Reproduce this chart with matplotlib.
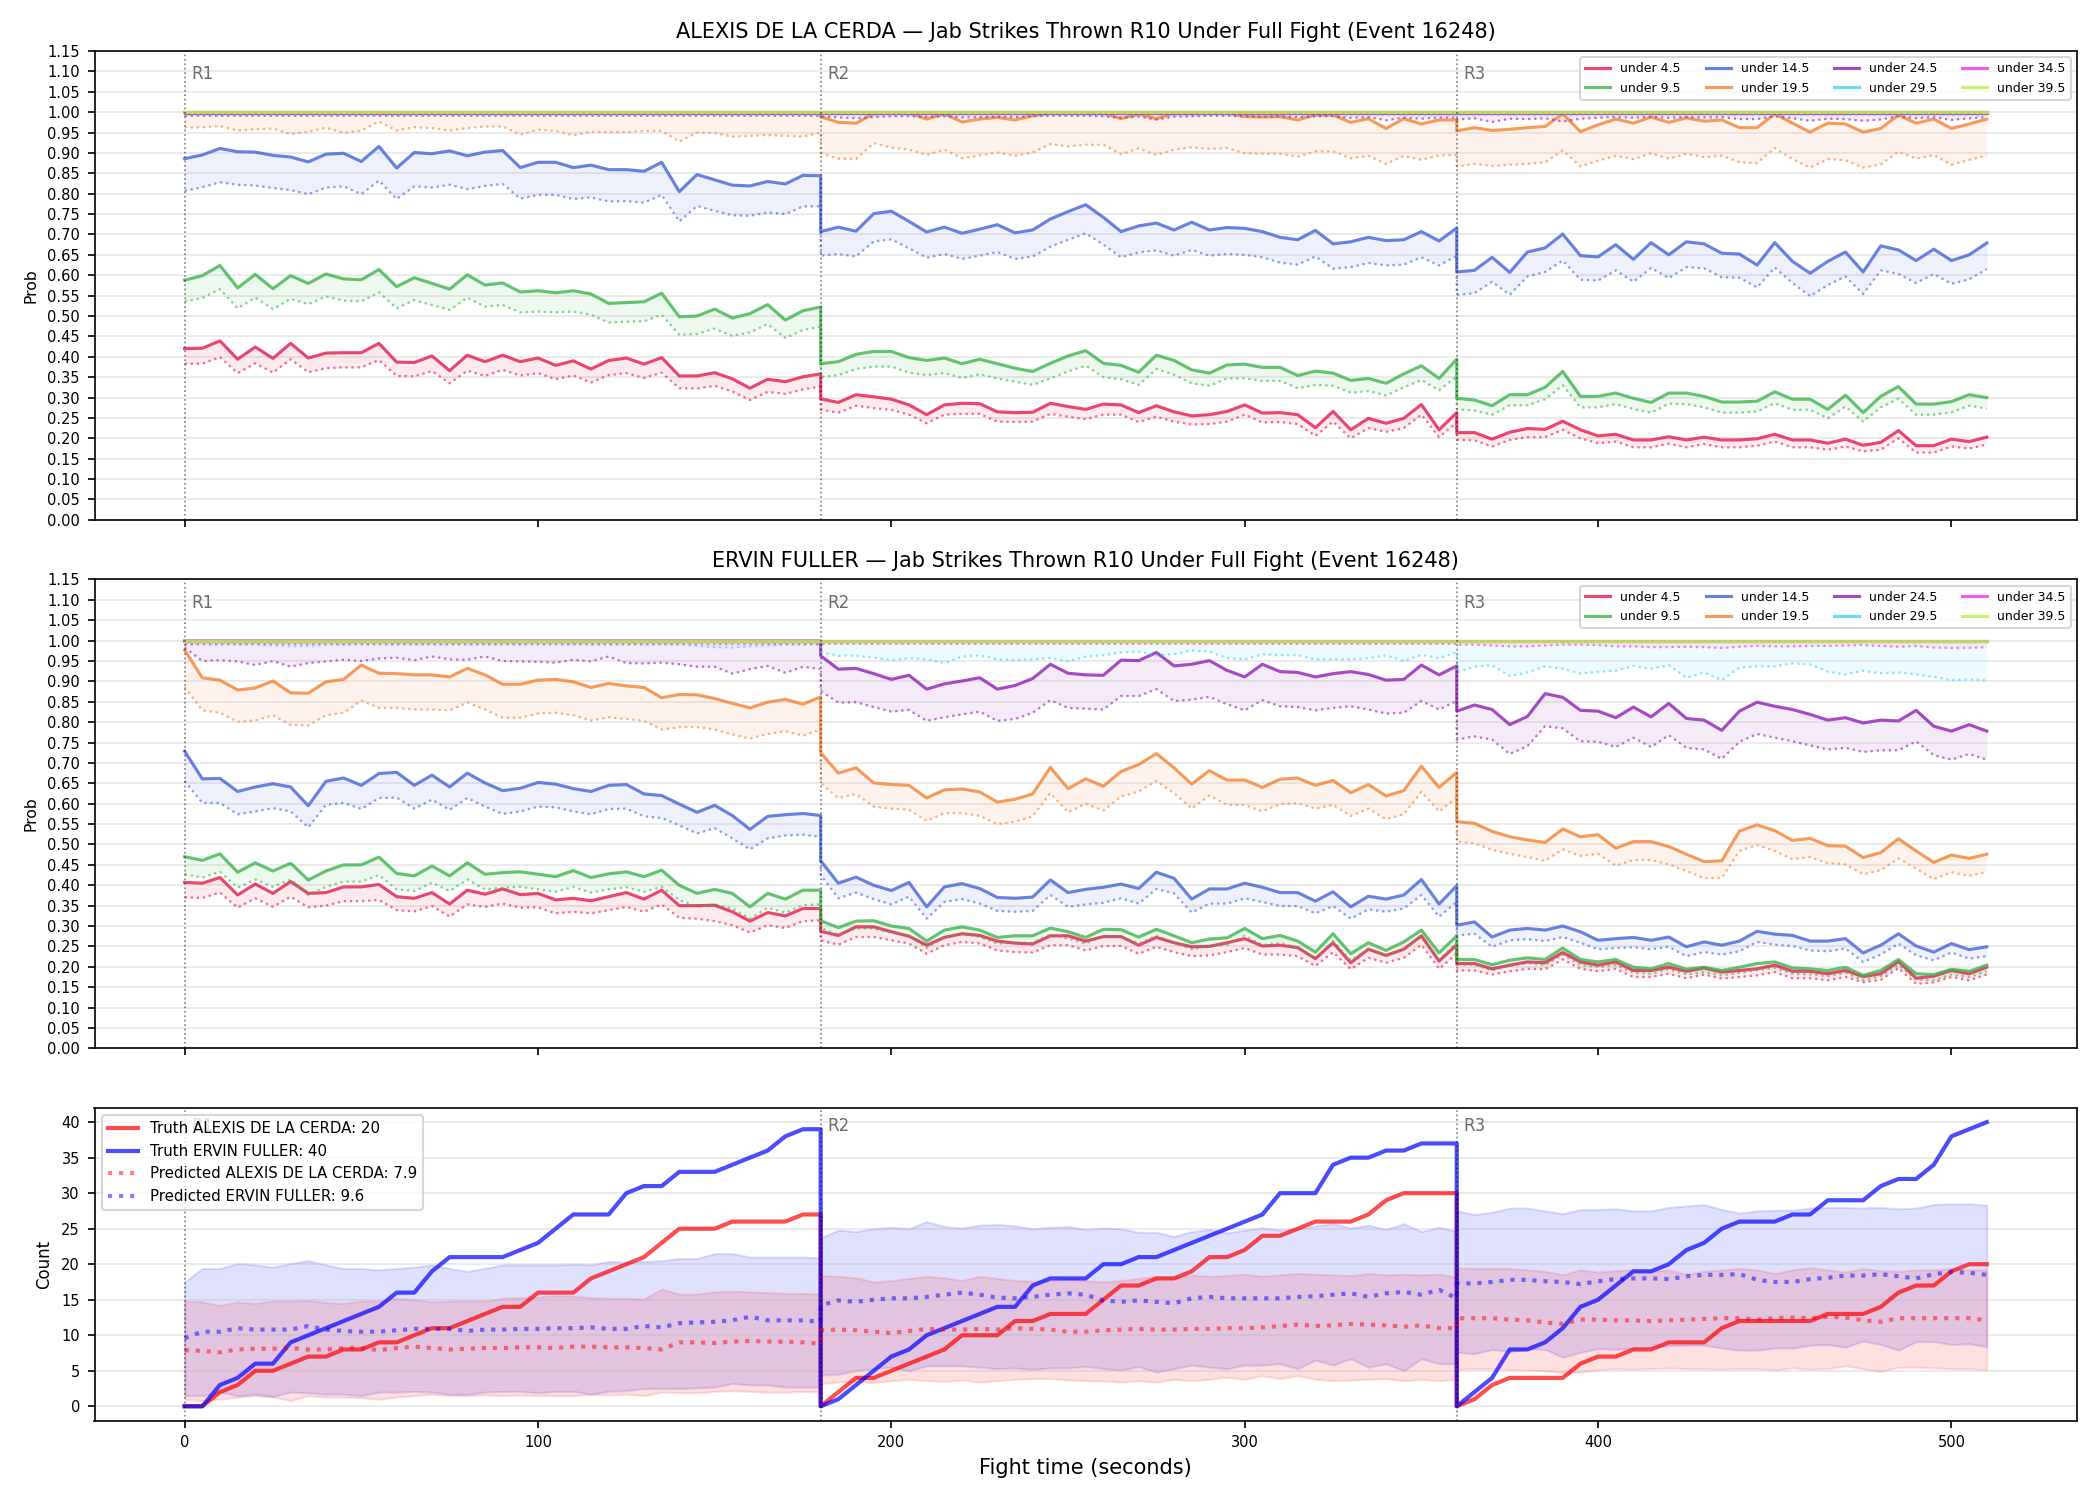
"""Strike-count ladder probabilities per fighter plus cumulative truth vs prediction."""
import numpy as np
import matplotlib
matplotlib.use("Agg")
import matplotlib.pyplot as plt

# sample times (5 s), each round restarts at its boundary
t = np.concatenate([np.arange(0, 181, 5), np.arange(180, 361, 5), np.arange(360, 511, 5)])
round_starts = [0, 180, 360]
round_names = ["R1", "R2", "R3"]

labels = ["under 4.5", "under 9.5", "under 14.5", "under 19.5",
          "under 24.5", "under 29.5", "under 34.5", "under 39.5"]
colors = ["#e6194b", "#3cb44b", "#4363d8", "#f58231",
          "#911eb4", "#42d4f4", "#f032e6", "#bfef45"]

# ---------- ALEXIS DE LA CERDA: P(under line), solid = upper, dotted = lower ----------
alexis_u45 = [
    0.420, 0.421, 0.439, 0.394, 0.424, 0.396, 0.433, 0.397, 0.409, 0.410,
    0.410, 0.433, 0.387, 0.386, 0.402, 0.366, 0.404, 0.388, 0.404, 0.388,
    0.397, 0.379, 0.390, 0.370, 0.391, 0.397, 0.382, 0.398, 0.353, 0.353,
    0.361, 0.346, 0.323, 0.345, 0.339, 0.351, 0.358,
    0.297, 0.288, 0.307, 0.302, 0.296, 0.282, 0.258, 0.282, 0.286, 0.285,
    0.265, 0.263, 0.264, 0.286, 0.278, 0.271, 0.284, 0.282, 0.263, 0.280,
    0.265, 0.255, 0.258, 0.266, 0.282, 0.262, 0.263, 0.258, 0.226, 0.266,
    0.221, 0.249, 0.237, 0.249, 0.283, 0.221, 0.263,
    0.214, 0.214, 0.198, 0.215, 0.224, 0.222, 0.242, 0.221, 0.206, 0.210,
    0.196, 0.196, 0.204, 0.196, 0.203, 0.196, 0.196, 0.199, 0.210, 0.196,
    0.196, 0.188, 0.198, 0.183, 0.190, 0.219, 0.182, 0.182, 0.198, 0.192,
    0.203,
]
alexis_u45_lo = [
    0.383, 0.383, 0.399, 0.360, 0.384, 0.361, 0.394, 0.362, 0.372, 0.374,
    0.374, 0.392, 0.353, 0.352, 0.365, 0.335, 0.366, 0.353, 0.368, 0.354,
    0.360, 0.345, 0.354, 0.337, 0.355, 0.360, 0.348, 0.361, 0.323, 0.322,
    0.329, 0.315, 0.294, 0.314, 0.309, 0.320, 0.327,
    0.270, 0.263, 0.280, 0.274, 0.270, 0.258, 0.237, 0.258, 0.260, 0.260,
    0.241, 0.240, 0.241, 0.260, 0.253, 0.247, 0.258, 0.258, 0.240, 0.253,
    0.241, 0.234, 0.235, 0.241, 0.258, 0.239, 0.240, 0.235, 0.206, 0.241,
    0.200, 0.225, 0.216, 0.225, 0.258, 0.203, 0.239,
    0.196, 0.195, 0.180, 0.196, 0.203, 0.203, 0.221, 0.200, 0.188, 0.192,
    0.178, 0.178, 0.187, 0.178, 0.186, 0.178, 0.178, 0.182, 0.192, 0.178,
    0.178, 0.172, 0.180, 0.168, 0.172, 0.200, 0.165, 0.165, 0.180, 0.175,
    0.185,
]
alexis_u95 = [
    0.588, 0.599, 0.624, 0.569, 0.602, 0.567, 0.599, 0.580, 0.603, 0.591,
    0.589, 0.614, 0.572, 0.594, 0.580, 0.566, 0.601, 0.576, 0.581, 0.559,
    0.562, 0.557, 0.562, 0.554, 0.531, 0.533, 0.535, 0.556, 0.498, 0.500,
    0.517, 0.495, 0.506, 0.528, 0.490, 0.513, 0.522,
    0.383, 0.388, 0.406, 0.413, 0.413, 0.398, 0.391, 0.397, 0.383, 0.394,
    0.383, 0.372, 0.364, 0.384, 0.402, 0.415, 0.384, 0.379, 0.362, 0.404,
    0.391, 0.368, 0.360, 0.380, 0.382, 0.374, 0.374, 0.354, 0.365, 0.360,
    0.342, 0.347, 0.335, 0.358, 0.378, 0.347, 0.394,
    0.298, 0.294, 0.280, 0.307, 0.307, 0.325, 0.364, 0.303, 0.303, 0.311,
    0.298, 0.288, 0.311, 0.311, 0.303, 0.289, 0.289, 0.291, 0.314, 0.296,
    0.296, 0.271, 0.306, 0.263, 0.303, 0.327, 0.284, 0.284, 0.290, 0.307,
    0.300,
]
alexis_u95_lo = [
    0.536, 0.544, 0.566, 0.519, 0.545, 0.517, 0.542, 0.529, 0.548, 0.538,
    0.536, 0.558, 0.519, 0.539, 0.527, 0.515, 0.545, 0.523, 0.527, 0.509,
    0.511, 0.509, 0.511, 0.503, 0.484, 0.486, 0.487, 0.503, 0.454, 0.456,
    0.469, 0.451, 0.460, 0.480, 0.446, 0.466, 0.474,
    0.350, 0.355, 0.370, 0.376, 0.376, 0.361, 0.355, 0.360, 0.348, 0.357,
    0.347, 0.339, 0.331, 0.347, 0.364, 0.378, 0.350, 0.345, 0.331, 0.370,
    0.356, 0.335, 0.329, 0.347, 0.347, 0.341, 0.341, 0.323, 0.331, 0.329,
    0.312, 0.316, 0.305, 0.325, 0.343, 0.318, 0.352,
    0.271, 0.268, 0.258, 0.281, 0.281, 0.296, 0.330, 0.276, 0.276, 0.284,
    0.272, 0.263, 0.285, 0.284, 0.276, 0.263, 0.263, 0.266, 0.286, 0.270,
    0.270, 0.249, 0.278, 0.241, 0.276, 0.297, 0.258, 0.258, 0.264, 0.280,
    0.273,
]
alexis_u145 = [
    0.886, 0.895, 0.911, 0.903, 0.902, 0.894, 0.890, 0.878, 0.897, 0.899,
    0.879, 0.916, 0.863, 0.901, 0.898, 0.905, 0.893, 0.902, 0.906, 0.864,
    0.877, 0.877, 0.864, 0.870, 0.859, 0.859, 0.855, 0.877, 0.805, 0.847,
    0.834, 0.821, 0.819, 0.830, 0.824, 0.845, 0.844,
    0.707, 0.718, 0.708, 0.751, 0.757, 0.732, 0.706, 0.718, 0.703, 0.713,
    0.724, 0.704, 0.711, 0.738, 0.756, 0.773, 0.742, 0.707, 0.721, 0.728,
    0.711, 0.730, 0.711, 0.717, 0.715, 0.707, 0.693, 0.687, 0.710, 0.677,
    0.682, 0.693, 0.685, 0.687, 0.707, 0.684, 0.716,
    0.608, 0.612, 0.644, 0.607, 0.657, 0.667, 0.701, 0.648, 0.645, 0.675,
    0.639, 0.680, 0.650, 0.682, 0.677, 0.654, 0.652, 0.625, 0.680, 0.634,
    0.605, 0.634, 0.657, 0.608, 0.672, 0.662, 0.636, 0.664, 0.636, 0.650,
    0.679,
]
alexis_u145_lo = [
    0.807, 0.816, 0.828, 0.822, 0.820, 0.814, 0.809, 0.799, 0.815, 0.818,
    0.799, 0.832, 0.787, 0.818, 0.815, 0.822, 0.811, 0.819, 0.824, 0.788,
    0.797, 0.797, 0.787, 0.791, 0.781, 0.782, 0.778, 0.797, 0.732, 0.770,
    0.758, 0.747, 0.746, 0.754, 0.750, 0.769, 0.769,
    0.648, 0.652, 0.646, 0.683, 0.688, 0.666, 0.643, 0.652, 0.640, 0.648,
    0.657, 0.640, 0.646, 0.670, 0.687, 0.703, 0.675, 0.644, 0.656, 0.661,
    0.648, 0.662, 0.648, 0.652, 0.650, 0.644, 0.631, 0.626, 0.646, 0.616,
    0.620, 0.630, 0.624, 0.626, 0.644, 0.624, 0.648,
    0.552, 0.556, 0.584, 0.552, 0.597, 0.608, 0.636, 0.589, 0.587, 0.612,
    0.584, 0.618, 0.593, 0.620, 0.617, 0.595, 0.594, 0.570, 0.619, 0.581,
    0.549, 0.576, 0.597, 0.554, 0.612, 0.603, 0.581, 0.603, 0.579, 0.590,
    0.615,
]
alexis_u195 = [0.999] * 37 + [
    0.989, 0.975, 0.973, 0.996, 0.999, 0.998, 0.983, 0.996, 0.976, 0.983,
    0.987, 0.981, 0.991, 0.998, 0.999, 0.999, 0.998, 0.984, 0.996, 0.984,
    0.998, 0.999, 0.999, 0.999, 0.989, 0.988, 0.989, 0.981, 0.993, 0.993,
    0.975, 0.984, 0.960, 0.984, 0.971, 0.981, 0.981,
    0.954, 0.962, 0.955, 0.958, 0.962, 0.965, 0.996, 0.952, 0.969, 0.983,
    0.973, 0.988, 0.975, 0.986, 0.978, 0.981, 0.962, 0.962, 0.996, 0.973,
    0.951, 0.973, 0.971, 0.951, 0.960, 0.993, 0.973, 0.983, 0.960, 0.971,
    0.983,
]
alexis_u195_lo = [
    0.962, 0.963, 0.966, 0.955, 0.958, 0.960, 0.946, 0.952, 0.962, 0.949,
    0.955, 0.977, 0.955, 0.963, 0.961, 0.955, 0.961, 0.965, 0.965, 0.945,
    0.957, 0.954, 0.943, 0.952, 0.951, 0.951, 0.954, 0.954, 0.928, 0.950,
    0.949, 0.940, 0.942, 0.944, 0.942, 0.940, 0.950,
    0.899, 0.886, 0.885, 0.924, 0.913, 0.908, 0.895, 0.908, 0.887, 0.894,
    0.901, 0.893, 0.901, 0.922, 0.916, 0.920, 0.920, 0.897, 0.911, 0.895,
    0.908, 0.914, 0.910, 0.912, 0.899, 0.898, 0.898, 0.891, 0.904, 0.904,
    0.887, 0.893, 0.873, 0.893, 0.883, 0.894, 0.895,
    0.867, 0.873, 0.868, 0.871, 0.873, 0.877, 0.906, 0.867, 0.881, 0.893,
    0.885, 0.899, 0.886, 0.898, 0.890, 0.893, 0.877, 0.875, 0.912, 0.885,
    0.864, 0.885, 0.882, 0.864, 0.872, 0.903, 0.886, 0.895, 0.871, 0.883,
    0.894,
]
alexis_u245 = [0.999] * 105
alexis_u245_lo = [0.991] * 37 + [
    0.990, 0.987, 0.985, 0.988, 0.990, 0.990, 0.989, 0.990, 0.987, 0.988,
    0.989, 0.988, 0.990, 0.991, 0.991, 0.991, 0.990, 0.986, 0.989, 0.982,
    0.989, 0.990, 0.991, 0.991, 0.990, 0.989, 0.990, 0.988, 0.990, 0.990,
    0.986, 0.988, 0.980, 0.987, 0.984, 0.987, 0.987,
    0.982, 0.985, 0.976, 0.984, 0.983, 0.985, 0.977, 0.984, 0.986, 0.988,
    0.986, 0.989, 0.986, 0.988, 0.987, 0.988, 0.983, 0.983, 0.990, 0.985,
    0.979, 0.984, 0.983, 0.979, 0.982, 0.990, 0.985, 0.988, 0.981, 0.985,
    0.988,
]
alexis_u295 = [0.9995] * 105
alexis_u295_lo = [0.993] * 105
alexis_u345 = [0.9995] * 105
alexis_u345_lo = [0.995] * 105
alexis_u395 = [1.0] * 105
alexis_u395_lo = [0.997] * 105

# ---------- ERVIN FULLER ----------
ervin_u45 = [
    0.407, 0.405, 0.419, 0.376, 0.403, 0.380, 0.409, 0.380, 0.382, 0.396,
    0.396, 0.402, 0.372, 0.368, 0.382, 0.354, 0.388, 0.378, 0.391, 0.377,
    0.380, 0.364, 0.368, 0.362, 0.372, 0.382, 0.366, 0.388, 0.350, 0.350,
    0.351, 0.335, 0.312, 0.333, 0.325, 0.343, 0.343,
    0.287, 0.277, 0.298, 0.298, 0.286, 0.275, 0.253, 0.272, 0.281, 0.277,
    0.263, 0.258, 0.256, 0.276, 0.276, 0.263, 0.274, 0.274, 0.253, 0.272,
    0.259, 0.249, 0.250, 0.259, 0.269, 0.251, 0.253, 0.247, 0.220, 0.259,
    0.210, 0.243, 0.228, 0.243, 0.276, 0.214, 0.254,
    0.208, 0.208, 0.195, 0.204, 0.212, 0.210, 0.235, 0.212, 0.204, 0.212,
    0.191, 0.191, 0.199, 0.189, 0.197, 0.187, 0.191, 0.195, 0.204, 0.189,
    0.189, 0.183, 0.191, 0.176, 0.183, 0.213, 0.172, 0.177, 0.191, 0.183,
    0.199,
]
ervin_u45_lo = [
    0.370, 0.369, 0.382, 0.345, 0.368, 0.347, 0.372, 0.346, 0.350, 0.361,
    0.361, 0.364, 0.339, 0.336, 0.349, 0.323, 0.353, 0.347, 0.355, 0.345,
    0.346, 0.331, 0.335, 0.331, 0.339, 0.347, 0.335, 0.353, 0.320, 0.318,
    0.312, 0.302, 0.284, 0.302, 0.295, 0.312, 0.314,
    0.265, 0.254, 0.273, 0.273, 0.265, 0.257, 0.232, 0.253, 0.261, 0.257,
    0.240, 0.236, 0.235, 0.253, 0.253, 0.240, 0.251, 0.251, 0.232, 0.249,
    0.236, 0.226, 0.228, 0.236, 0.246, 0.230, 0.230, 0.226, 0.202, 0.236,
    0.194, 0.222, 0.210, 0.222, 0.254, 0.195, 0.232,
    0.191, 0.191, 0.181, 0.189, 0.195, 0.194, 0.218, 0.195, 0.189, 0.195,
    0.175, 0.175, 0.183, 0.172, 0.181, 0.171, 0.175, 0.179, 0.187, 0.172,
    0.172, 0.167, 0.175, 0.162, 0.168, 0.197, 0.158, 0.162, 0.175, 0.167,
    0.181,
]
ervin_u95 = [
    0.470, 0.461, 0.477, 0.432, 0.455, 0.435, 0.454, 0.413, 0.435, 0.450,
    0.450, 0.469, 0.429, 0.423, 0.447, 0.423, 0.455, 0.427, 0.431, 0.433,
    0.427, 0.421, 0.436, 0.419, 0.428, 0.433, 0.421, 0.437, 0.400, 0.380,
    0.390, 0.380, 0.347, 0.380, 0.366, 0.388, 0.388,
    0.313, 0.296, 0.312, 0.313, 0.300, 0.294, 0.263, 0.290, 0.298, 0.290,
    0.272, 0.276, 0.276, 0.295, 0.286, 0.272, 0.292, 0.291, 0.273, 0.292,
    0.276, 0.259, 0.268, 0.271, 0.294, 0.269, 0.277, 0.263, 0.236, 0.281,
    0.232, 0.259, 0.240, 0.261, 0.290, 0.234, 0.276,
    0.218, 0.218, 0.205, 0.216, 0.222, 0.218, 0.246, 0.218, 0.212, 0.218,
    0.199, 0.195, 0.208, 0.194, 0.199, 0.191, 0.199, 0.208, 0.212, 0.197,
    0.195, 0.191, 0.199, 0.179, 0.191, 0.218, 0.183, 0.181, 0.194, 0.189,
    0.204,
]
ervin_u95_lo = [
    0.427, 0.419, 0.433, 0.394, 0.414, 0.396, 0.414, 0.376, 0.396, 0.409,
    0.409, 0.425, 0.390, 0.386, 0.406, 0.386, 0.414, 0.390, 0.394, 0.396,
    0.390, 0.384, 0.396, 0.382, 0.390, 0.395, 0.384, 0.396, 0.364, 0.347,
    0.353, 0.343, 0.318, 0.345, 0.333, 0.351, 0.353,
    0.295, 0.279, 0.294, 0.294, 0.284, 0.277, 0.246, 0.273, 0.281, 0.273,
    0.257, 0.259, 0.259, 0.279, 0.269, 0.257, 0.276, 0.274, 0.257, 0.276,
    0.259, 0.243, 0.251, 0.254, 0.276, 0.253, 0.259, 0.246, 0.220, 0.263,
    0.216, 0.243, 0.226, 0.245, 0.272, 0.218, 0.259,
    0.205, 0.205, 0.191, 0.202, 0.209, 0.204, 0.230, 0.204, 0.199, 0.204,
    0.185, 0.183, 0.194, 0.181, 0.187, 0.179, 0.185, 0.192, 0.197, 0.183,
    0.181, 0.177, 0.185, 0.167, 0.177, 0.204, 0.169, 0.167, 0.181, 0.175,
    0.189,
]
ervin_u145 = [
    0.729, 0.661, 0.662, 0.630, 0.641, 0.649, 0.641, 0.595, 0.655, 0.663,
    0.645, 0.674, 0.677, 0.645, 0.670, 0.641, 0.675, 0.651, 0.632, 0.638,
    0.652, 0.648, 0.637, 0.630, 0.645, 0.647, 0.624, 0.620, 0.599, 0.579,
    0.596, 0.571, 0.537, 0.569, 0.573, 0.576, 0.571,
    0.460, 0.405, 0.420, 0.400, 0.387, 0.407, 0.347, 0.396, 0.404, 0.392,
    0.370, 0.368, 0.371, 0.413, 0.382, 0.390, 0.395, 0.403, 0.392, 0.432,
    0.417, 0.366, 0.391, 0.391, 0.405, 0.395, 0.382, 0.382, 0.361, 0.384,
    0.347, 0.373, 0.366, 0.376, 0.414, 0.354, 0.399,
    0.302, 0.310, 0.273, 0.290, 0.294, 0.290, 0.300, 0.286, 0.265, 0.269,
    0.272, 0.265, 0.273, 0.249, 0.261, 0.253, 0.263, 0.287, 0.280, 0.277,
    0.263, 0.263, 0.269, 0.234, 0.253, 0.281, 0.251, 0.236, 0.257, 0.242,
    0.249,
]
ervin_u145_lo = [
    0.656, 0.602, 0.602, 0.574, 0.581, 0.589, 0.581, 0.542, 0.597, 0.602,
    0.587, 0.614, 0.615, 0.588, 0.610, 0.585, 0.614, 0.593, 0.575, 0.581,
    0.593, 0.591, 0.581, 0.574, 0.587, 0.588, 0.569, 0.565, 0.547, 0.527,
    0.540, 0.515, 0.488, 0.515, 0.522, 0.524, 0.519,
    0.425, 0.368, 0.382, 0.366, 0.353, 0.372, 0.318, 0.359, 0.366, 0.355,
    0.337, 0.335, 0.337, 0.376, 0.347, 0.353, 0.357, 0.368, 0.355, 0.391,
    0.380, 0.333, 0.355, 0.355, 0.368, 0.359, 0.349, 0.349, 0.331, 0.349,
    0.318, 0.341, 0.335, 0.343, 0.376, 0.323, 0.359,
    0.277, 0.281, 0.249, 0.265, 0.268, 0.263, 0.273, 0.259, 0.243, 0.246,
    0.248, 0.243, 0.249, 0.226, 0.236, 0.230, 0.238, 0.261, 0.254, 0.251,
    0.240, 0.238, 0.245, 0.212, 0.230, 0.257, 0.228, 0.216, 0.235, 0.220,
    0.226,
]
ervin_u195 = [
    0.977, 0.909, 0.903, 0.879, 0.884, 0.901, 0.872, 0.871, 0.899, 0.905,
    0.940, 0.920, 0.919, 0.916, 0.916, 0.911, 0.932, 0.916, 0.893, 0.893,
    0.903, 0.905, 0.899, 0.885, 0.895, 0.889, 0.885, 0.860, 0.868, 0.867,
    0.858, 0.846, 0.835, 0.849, 0.856, 0.844, 0.862,
    0.725, 0.675, 0.688, 0.651, 0.647, 0.645, 0.614, 0.634, 0.636, 0.629,
    0.604, 0.611, 0.624, 0.689, 0.637, 0.661, 0.643, 0.679, 0.696, 0.723,
    0.688, 0.648, 0.681, 0.658, 0.658, 0.640, 0.660, 0.663, 0.645, 0.657,
    0.627, 0.647, 0.619, 0.632, 0.692, 0.640, 0.677,
    0.556, 0.552, 0.532, 0.519, 0.511, 0.505, 0.538, 0.519, 0.524, 0.491,
    0.507, 0.507, 0.495, 0.476, 0.458, 0.460, 0.533, 0.548, 0.534, 0.510,
    0.515, 0.497, 0.496, 0.468, 0.480, 0.514, 0.484, 0.456, 0.474, 0.466,
    0.476,
]
ervin_u195_lo = [
    0.886, 0.829, 0.823, 0.801, 0.804, 0.817, 0.793, 0.792, 0.817, 0.823,
    0.853, 0.835, 0.835, 0.831, 0.831, 0.829, 0.848, 0.831, 0.811, 0.811,
    0.821, 0.823, 0.817, 0.804, 0.812, 0.808, 0.803, 0.782, 0.788, 0.788,
    0.782, 0.770, 0.760, 0.771, 0.778, 0.767, 0.782,
    0.651, 0.614, 0.624, 0.593, 0.588, 0.585, 0.558, 0.577, 0.577, 0.570,
    0.550, 0.556, 0.569, 0.626, 0.579, 0.600, 0.583, 0.618, 0.630, 0.656,
    0.626, 0.588, 0.620, 0.597, 0.597, 0.581, 0.599, 0.601, 0.588, 0.597,
    0.570, 0.588, 0.562, 0.574, 0.629, 0.581, 0.615,
    0.507, 0.503, 0.487, 0.477, 0.469, 0.460, 0.488, 0.472, 0.477, 0.448,
    0.462, 0.462, 0.451, 0.435, 0.417, 0.418, 0.484, 0.499, 0.484, 0.464,
    0.469, 0.454, 0.451, 0.427, 0.437, 0.466, 0.441, 0.415, 0.432, 0.423,
    0.433,
]
ervin_u245 = [0.999] * 37 + [
    0.963, 0.930, 0.932, 0.919, 0.905, 0.915, 0.881, 0.894, 0.901, 0.909,
    0.881, 0.890, 0.907, 0.942, 0.920, 0.916, 0.915, 0.952, 0.951, 0.971,
    0.938, 0.942, 0.951, 0.927, 0.911, 0.942, 0.924, 0.922, 0.911, 0.919,
    0.924, 0.917, 0.903, 0.905, 0.940, 0.916, 0.938,
    0.827, 0.842, 0.831, 0.794, 0.814, 0.870, 0.861, 0.829, 0.827, 0.811,
    0.837, 0.813, 0.846, 0.809, 0.805, 0.780, 0.827, 0.849, 0.839, 0.831,
    0.819, 0.805, 0.811, 0.798, 0.805, 0.803, 0.829, 0.790, 0.778, 0.794,
    0.778,
]
ervin_u245_lo = [
    0.983, 0.950, 0.952, 0.949, 0.940, 0.950, 0.936, 0.945, 0.949, 0.953,
    0.950, 0.956, 0.958, 0.952, 0.961, 0.954, 0.953, 0.961, 0.950, 0.949,
    0.948, 0.946, 0.953, 0.949, 0.961, 0.945, 0.944, 0.946, 0.942, 0.936,
    0.936, 0.919, 0.930, 0.938, 0.921, 0.936, 0.930,
    0.876, 0.848, 0.849, 0.837, 0.826, 0.830, 0.803, 0.812, 0.819, 0.826,
    0.803, 0.808, 0.823, 0.854, 0.835, 0.833, 0.831, 0.864, 0.864, 0.881,
    0.852, 0.855, 0.862, 0.844, 0.829, 0.854, 0.839, 0.837, 0.829, 0.835,
    0.839, 0.831, 0.821, 0.823, 0.852, 0.831, 0.852,
    0.757, 0.765, 0.757, 0.722, 0.741, 0.790, 0.785, 0.753, 0.752, 0.739,
    0.762, 0.739, 0.768, 0.737, 0.733, 0.710, 0.752, 0.771, 0.762, 0.753,
    0.743, 0.733, 0.737, 0.727, 0.731, 0.731, 0.753, 0.719, 0.708, 0.722,
    0.708,
]
ervin_u295 = [0.998] * 105
ervin_u295_lo = [
    0.990, 0.990, 0.990, 0.990, 0.990, 0.988, 0.986, 0.987, 0.989, 0.990,
    0.990, 0.990, 0.990, 0.990, 0.990, 0.990, 0.990, 0.990, 0.990, 0.990,
    0.990, 0.990, 0.990, 0.990, 0.990, 0.990, 0.990, 0.990, 0.990, 0.987,
    0.984, 0.983, 0.986, 0.988, 0.990, 0.990, 0.990,
    0.971, 0.963, 0.963, 0.958, 0.952, 0.957, 0.954, 0.945, 0.961, 0.964,
    0.954, 0.952, 0.954, 0.957, 0.949, 0.961, 0.964, 0.971, 0.973, 0.964,
    0.967, 0.976, 0.973, 0.957, 0.954, 0.967, 0.964, 0.964, 0.954, 0.954,
    0.954, 0.957, 0.964, 0.950, 0.965, 0.957, 0.971,
    0.922, 0.936, 0.940, 0.913, 0.922, 0.937, 0.931, 0.919, 0.924, 0.926,
    0.938, 0.931, 0.940, 0.909, 0.922, 0.903, 0.934, 0.937, 0.937, 0.944,
    0.942, 0.924, 0.917, 0.926, 0.920, 0.922, 0.917, 0.911, 0.903, 0.905,
    0.903,
]
ervin_u345 = [0.9995] * 105
ervin_u345_lo = [0.992] * 74 + [
    0.990, 0.990, 0.988, 0.986, 0.986, 0.988, 0.990, 0.990, 0.989, 0.986,
    0.986, 0.984, 0.984, 0.985, 0.984, 0.982, 0.985, 0.987, 0.986, 0.986,
    0.987, 0.987, 0.988, 0.989, 0.987, 0.985, 0.987, 0.983, 0.982, 0.982,
    0.984,
]
ervin_u395 = [1.0] * 105
ervin_u395_lo = [0.997] * 105

# ---------- cumulative jab counts (reset each round) ----------
truth_alexis = [
    0, 0, 2, 3, 5, 5, 6, 7, 7, 8, 8, 9, 9, 10, 11, 11, 12, 13, 14, 14,
    16, 16, 16, 18, 19, 20, 21, 23, 25, 25, 25, 26, 26, 26, 26, 27, 27,
    0, 2, 4, 4, 5, 6, 7, 8, 10, 10, 10, 12, 12, 13, 13, 13, 15, 17, 17, 18,
    18, 19, 21, 21, 22, 24, 24, 25, 26, 26, 26, 27, 29, 30, 30, 30, 30,
    0, 1, 3, 4, 4, 4, 4, 6, 7, 7, 8, 8, 9, 9, 9, 11, 12, 12, 12, 12,
    12, 13, 13, 13, 14, 16, 17, 17, 19, 20, 20,
]
truth_ervin = [
    0, 0, 3, 4, 6, 6, 9, 10, 11, 12, 13, 14, 16, 16, 19, 21, 21, 21, 21, 22,
    23, 25, 27, 27, 27, 30, 31, 31, 33, 33, 33, 34, 35, 36, 38, 39, 39,
    0, 1, 3, 5, 7, 8, 10, 11, 12, 13, 14, 14, 17, 18, 18, 18, 20, 20, 21, 21,
    22, 23, 24, 25, 26, 27, 30, 30, 30, 34, 35, 35, 36, 36, 37, 37, 37,
    0, 2, 4, 8, 8, 9, 11, 14, 15, 17, 19, 19, 20, 22, 23, 25, 26, 26, 26, 27,
    27, 29, 29, 29, 31, 32, 32, 34, 38, 39, 40,
]
pred_alexis = [
    7.9, 7.8, 7.6, 8.0, 8.1, 8.1, 8.2, 8.0, 8.0, 8.2,
    8.2, 7.9, 8.2, 8.4, 8.2, 8.0, 8.1, 8.2, 8.2, 8.3,
    8.3, 8.2, 8.4, 8.4, 8.3, 8.3, 8.2, 8.0, 9.0, 9.0,
    8.9, 9.1, 9.2, 9.1, 9.1, 9.0, 8.8,
    10.7, 10.8, 10.7, 10.5, 10.3, 10.6, 10.9, 10.8, 10.8, 10.9,
    10.8, 11.0, 10.9, 10.8, 10.5, 10.5, 10.7, 10.8, 10.9, 10.8,
    10.8, 10.9, 10.9, 11.0, 11.0, 11.1, 11.3, 11.5, 11.3, 11.4,
    11.6, 11.5, 11.4, 11.2, 11.4, 11.0, 11.0,
    12.4, 12.4, 12.4, 12.2, 12.1, 11.8, 11.6, 12.2, 12.2, 12.1,
    12.1, 12.0, 12.1, 12.2, 12.3, 12.4, 12.4, 12.2, 12.4, 12.5,
    12.4, 12.6, 12.5, 12.1, 11.9, 12.4, 12.4, 12.4, 12.4, 12.4,
    12.1,
]
pred_ervin = [
    9.6, 10.5, 10.5, 11.0, 10.8, 10.8, 10.8, 11.3, 10.8, 10.6,
    10.5, 10.5, 10.7, 10.9, 10.9, 10.9, 10.6, 10.8, 10.8, 10.9,
    10.9, 11.0, 11.0, 11.1, 10.9, 10.9, 11.3, 11.1, 11.7, 11.8,
    11.9, 12.1, 12.6, 12.1, 12.1, 12.1, 11.9,
    14.2, 14.9, 14.7, 15.0, 15.2, 15.2, 15.4, 15.7, 16.0, 15.7,
    15.3, 15.2, 15.4, 15.7, 15.9, 15.7, 14.9, 14.7, 14.9, 14.7,
    14.5, 15.2, 15.4, 15.2, 15.2, 15.2, 15.2, 15.4, 15.5, 15.7,
    15.9, 15.4, 15.9, 16.1, 15.7, 16.4, 15.2,
    17.3, 17.3, 17.5, 17.8, 17.8, 17.6, 17.5, 17.2, 17.6, 17.9,
    18.0, 18.0, 17.9, 18.3, 18.5, 18.5, 18.6, 17.8, 17.5, 17.5,
    17.9, 18.1, 18.4, 18.4, 18.6, 18.3, 18.0, 18.6, 18.9, 18.8,
    18.5,
]
alexis_band_hi = [
    14.8, 14.7, 14.2, 14.7, 14.5, 14.8, 14.8, 14.9, 14.6, 14.5,
    14.8, 14.8, 15.2, 15.0, 14.7, 14.8, 14.8, 14.8, 15.2, 15.3,
    15.4, 15.6, 15.5, 15.3, 15.2, 15.2, 15.1, 16.5, 15.8, 15.8,
    16.1, 16.2, 16.1, 16.0, 15.9, 15.9, 15.8,
    18.4, 18.3, 18.1, 17.5, 17.7, 18.0, 18.3, 18.1, 17.7, 18.3,
    18.0, 17.7, 17.6, 17.7, 17.9, 17.7, 17.5, 17.7, 18.0, 18.3,
    18.1, 18.5, 18.3, 18.4, 18.6, 18.3, 18.5, 18.7, 18.6, 18.5,
    18.4, 18.7, 18.5, 18.6, 18.5, 18.6, 18.2,
    19.5, 19.4, 19.4, 19.4, 19.2, 19.0, 18.5, 19.2, 18.9, 19.1,
    19.2, 19.0, 19.2, 18.6, 19.0, 19.2, 19.4, 19.2, 18.7, 19.2,
    19.5, 19.2, 18.9, 19.4, 19.1, 19.0, 19.2, 19.2, 19.4, 19.2,
    19.2,
]
alexis_band_lo = [
    1.0, 0.8, 1.0, 1.3, 1.5, 1.3, 0.8, 1.5, 1.3, 1.3,
    1.2, 1.0, 1.3, 1.5, 1.7, 1.5, 1.5, 1.6, 1.5, 1.6,
    1.5, 1.5, 1.5, 1.7, 1.6, 1.7, 1.5, 2.0, 1.9, 1.9,
    2.1, 2.2, 2.1, 2.0, 2.0, 2.1, 2.0,
    3.2, 3.4, 3.5, 3.3, 3.6, 3.8, 3.6, 3.5, 3.7, 3.4,
    3.6, 3.8, 3.9, 3.9, 3.7, 3.6, 3.6, 3.4, 3.6, 3.4,
    3.8, 3.6, 3.8, 4.1, 3.8, 4.3, 3.9, 4.3, 3.8, 3.6,
    3.7, 3.8, 3.9, 3.6, 3.8, 3.6, 3.8,
    5.2, 5.3, 5.3, 5.2, 5.1, 5.0, 4.7, 4.8, 5.1, 5.3,
    5.2, 5.3, 5.4, 5.3, 5.3, 5.2, 5.3, 5.3, 5.1, 5.4,
    5.2, 5.3, 5.7, 5.3, 4.9, 5.5, 5.5, 5.4, 5.3, 5.3,
    5.1,
]
ervin_band_hi = [
    17.5, 19.4, 19.4, 20.1, 19.9, 19.6, 20.1, 20.5, 19.9, 19.4,
    19.4, 19.2, 19.4, 19.6, 19.9, 19.4, 19.0, 19.4, 19.9, 19.9,
    19.9, 19.9, 20.0, 19.9, 20.4, 20.3, 20.4, 20.5, 20.8, 20.8,
    21.5, 21.5, 21.0, 21.0, 21.0, 21.0, 20.9,
    23.7, 24.8, 24.6, 25.0, 25.2, 25.0, 26.0, 25.3, 25.1, 25.5,
    25.6, 25.4, 25.0, 25.2, 25.3, 24.9, 25.1, 25.0, 24.5, 24.5,
    23.9, 24.6, 24.9, 24.4, 24.8, 25.1, 24.8, 25.0, 25.4, 25.7,
    25.1, 25.5, 24.9, 25.7, 24.6, 25.2, 24.6,
    27.5, 27.0, 27.3, 27.9, 27.9, 27.5, 27.1, 27.7, 27.7, 27.8,
    27.5, 27.5, 28.0, 28.2, 28.4, 27.7, 27.2, 27.5, 27.6, 27.6,
    27.9, 28.0, 28.0, 27.9, 28.0, 27.8, 27.9, 28.4, 28.5, 28.5,
    28.3,
]
ervin_band_lo = [
    1.5, 1.5, 2.0, 1.5, 1.7, 1.4, 2.0, 1.9, 1.7, 1.7,
    1.5, 2.0, 2.0, 2.1, 2.0, 1.7, 1.7, 2.0, 2.1, 2.1,
    1.9, 2.1, 2.1, 1.7, 2.1, 2.2, 2.5, 2.5, 2.5, 2.6,
    2.7, 3.2, 3.0, 3.0, 2.7, 2.7, 2.7,
    4.4, 4.5, 5.0, 5.3, 5.5, 5.0, 5.7, 5.7, 5.7, 5.5,
    5.3, 5.4, 5.2, 5.4, 5.4, 5.6, 5.3, 5.1, 5.6, 4.8,
    5.3, 5.8, 5.5, 5.3, 5.8, 5.8, 6.0, 5.3, 6.5, 5.8,
    6.7, 5.5, 6.0, 5.0, 6.7, 6.0, 6.0,
    7.6, 7.4, 8.0, 7.7, 8.1, 8.0, 6.9, 7.6, 8.1, 8.0,
    8.2, 8.3, 8.5, 8.6, 8.6, 8.2, 7.9, 7.9, 8.2, 8.2,
    8.6, 8.7, 8.3, 9.2, 8.7, 7.9, 9.1, 9.1, 8.7, 8.8,
    8.4,
]

alexis_hi = [alexis_u45, alexis_u95, alexis_u145, alexis_u195,
             alexis_u245, alexis_u295, alexis_u345, alexis_u395]
alexis_lo = [alexis_u45_lo, alexis_u95_lo, alexis_u145_lo, alexis_u195_lo,
             alexis_u245_lo, alexis_u295_lo, alexis_u345_lo, alexis_u395_lo]
ervin_hi = [ervin_u45, ervin_u95, ervin_u145, ervin_u195,
            ervin_u245, ervin_u295, ervin_u345, ervin_u395]
ervin_lo = [ervin_u45_lo, ervin_u95_lo, ervin_u145_lo, ervin_u195_lo,
            ervin_u245_lo, ervin_u295_lo, ervin_u345_lo, ervin_u395_lo]


def mark_rounds(ax):
    for s, name in zip(round_starts, round_names):
        ax.axvline(s, color="k", ls=":", lw=0.8, alpha=0.5)
        ax.text(s + 2, 0.97, name, transform=ax.get_xaxis_transform(),
                va="top", ha="left", fontsize=8, color="dimgray", zorder=1)


def prob_panel(ax, highs, lows, title):
    for lab, c, hi, lo in zip(labels, colors, highs, lows):
        ax.plot(t, hi, color=c, lw=1.5, alpha=0.8, label=lab)
        ax.plot(t, lo, color=c, lw=1.1, ls=":", alpha=0.6)
        ax.fill_between(t, lo, hi, color=c, alpha=0.09, lw=0)
    mark_rounds(ax)
    ax.set_ylim(0, 1.15)
    ax.set_yticks(np.arange(0, 1.151, 0.05))
    ax.yaxis.set_major_formatter(matplotlib.ticker.FormatStrFormatter("%.2f"))
    ax.set_ylabel("Prob", fontsize=7.5)
    ax.set_title(title, fontsize=10)
    ax.tick_params(labelsize=7)
    ax.grid(axis="y", alpha=0.3)
    ax.legend(loc="upper right", ncol=4, fontsize=6)


fig, axes = plt.subplots(3, 1, figsize=(14, 10), sharex=True,
                         gridspec_kw={"height_ratios": [1.5, 1.5, 1]})
fig.subplots_adjust(left=0.045, right=0.989, top=0.966, bottom=0.053, hspace=0.143)

prob_panel(axes[0], alexis_hi, alexis_lo,
           "ALEXIS DE LA CERDA — Jab Strikes Thrown R10 Under Full Fight (Event 16248)")
prob_panel(axes[1], ervin_hi, ervin_lo,
           "ERVIN FULLER — Jab Strikes Thrown R10 Under Full Fight (Event 16248)")

ax = axes[2]
ax.fill_between(t, ervin_band_lo, ervin_band_hi, color="blue", alpha=0.12)
ax.fill_between(t, alexis_band_lo, alexis_band_hi, color="red", alpha=0.12)
ax.plot(t, truth_alexis, color="red", lw=2, alpha=0.7,
        label=f"Truth ALEXIS DE LA CERDA: {truth_alexis[-1]}")
ax.plot(t, truth_ervin, color="blue", lw=2, alpha=0.7,
        label=f"Truth ERVIN FULLER: {truth_ervin[-1]}")
ax.plot(t, pred_alexis, color="red", lw=2, ls=":", alpha=0.5,
        label=f"Predicted ALEXIS DE LA CERDA: {pred_alexis[0]:.1f}")
ax.plot(t, pred_ervin, color="blue", lw=2, ls=":", alpha=0.5,
        label=f"Predicted ERVIN FULLER: {pred_ervin[0]:.1f}")
mark_rounds(ax)
ax.set_ylabel("Count", fontsize=8)
ax.set_xlabel("Fight time (seconds)", fontsize=10)
ax.tick_params(labelsize=7)
ax.grid(axis="y", alpha=0.3)
ax.legend(loc="upper left", fontsize=7.2)

fig.savefig("out.png", dpi=150)
